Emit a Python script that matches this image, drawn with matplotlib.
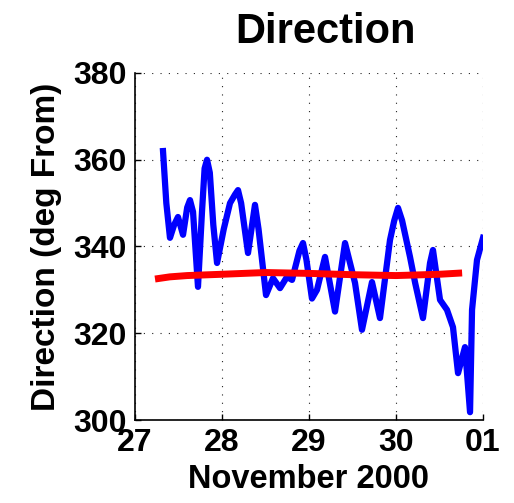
# Wind direction time series with smoothed trend
import matplotlib
matplotlib.use("Agg")
import matplotlib.pyplot as plt

plt.rcParams['font.family'] = ['Liberation Sans', 'DejaVu Sans']
plt.rcParams['font.weight'] = 'bold'

# observed direction (day of November 2000, deg From)
obs_day = [27.322, 27.36, 27.402, 27.45, 27.494, 27.552, 27.60, 27.632, 27.667, 27.724,
           27.77, 27.80, 27.828, 27.86, 27.90, 27.943, 28.02, 28.092, 28.15, 28.184,
           28.22, 28.299, 28.379, 28.42, 28.506, 28.586, 28.667, 28.747, 28.805, 28.89,
           28.931, 28.97, 29.034, 29.092, 29.184, 29.299, 29.414, 29.529, 29.609, 29.724,
           29.816, 29.931, 29.98, 30.023, 30.07, 30.161, 30.22, 30.310, 30.391, 30.425,
           30.506, 30.586, 30.655, 30.713, 30.793, 30.851, 30.874, 30.931, 31.0]
obs_dir = [362, 350, 342, 345, 346.8, 342.7, 349, 350.7, 348, 330.7,
           348, 358, 360, 357, 345, 336.2, 344, 350, 352, 353,
           350, 338.5, 349.6, 344, 328.8, 332.7, 330.4, 333, 332.3, 339,
           340.8, 337, 328, 330, 337.6, 325, 340.8, 331.6, 320.8, 331.8,
           323.5, 341.5, 346, 348.9, 346, 337.6, 331.6, 323.5, 336.2, 339.2,
           327.7, 325.4, 321.4, 310.8, 316.8, 301.8, 325.4, 336.9, 342]

# smoothed trend
trend_day = [27.23, 27.4, 27.6, 28.0, 28.5, 29.0, 29.5, 30.0, 30.5, 30.76]
trend_dir = [332.5, 333.0, 333.3, 333.6, 334.0, 333.8, 333.5, 333.3, 333.6, 333.9]

xticks = [27, 28, 29, 30, 31]
xtick_labels = ['27', '28', '29', '30', '01']
yticks = [300, 320, 340, 360, 380]

fig = plt.figure(figsize=(5.14, 5.03), dpi=100)
ax = fig.add_axes([135/514, 83/503, 348/514, 347/503])

ax.plot(obs_day, obs_dir, color='#0000FF', lw=4.5, solid_joinstyle='round')
ax.plot(trend_day, trend_dir, color='#FF0000', lw=5, solid_capstyle='butt')

ax.set_xlim(27, 31)
ax.set_ylim(300, 380)
ax.set_xticks(xticks)
ax.set_xticklabels(xtick_labels)
ax.set_yticks(yticks)
ax.tick_params(direction='in', length=4, width=1, labelsize=23, pad=6)
for lab in ax.get_xticklabels() + ax.get_yticklabels():
    lab.set_fontweight('bold')

ax.grid(True, color='#222222', lw=0.8, linestyle=(0, (1, 6.5)))
ax.spines['top'].set_visible(False)
ax.spines['right'].set_visible(False)
ax.spines['left'].set_linewidth(1.2)
ax.spines['bottom'].set_linewidth(1.2)

ax.set_xlabel('November 2000', fontsize=23.5, fontweight='bold', labelpad=4)
ax.set_ylabel('Direction (deg From)', fontsize=24, fontweight='bold', labelpad=8)
fig.text(326/514, 1 - 43/503, 'Direction', fontsize=30, fontweight='bold',
         ha='center', va='baseline')

fig.savefig('out.png', dpi=100)
